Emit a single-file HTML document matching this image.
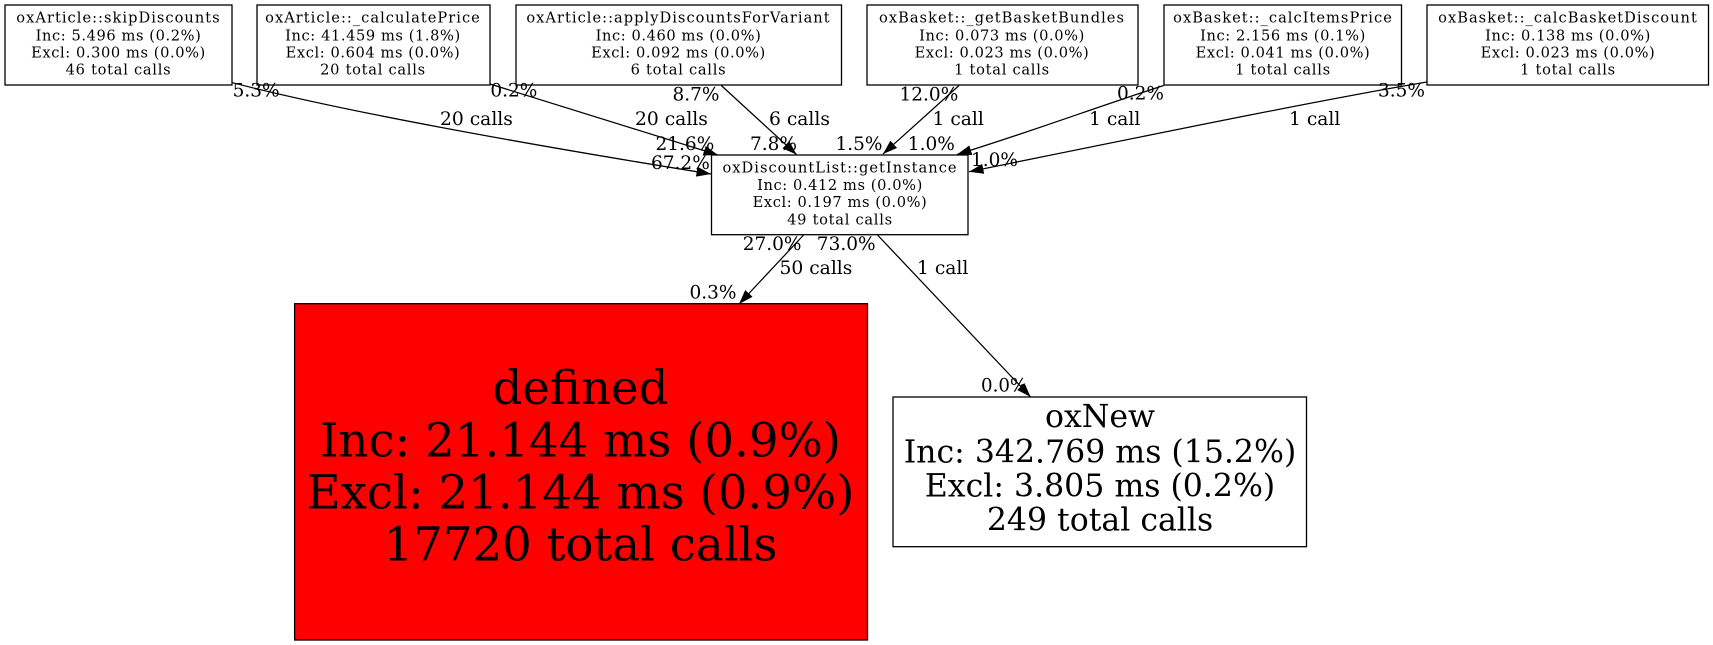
<!DOCTYPE html>
<html><head><meta charset="utf-8"><style>
html,body{margin:0;padding:0;background:#fff;width:1713px;height:645px;overflow:hidden}
svg{display:block}
text{font-family:"DejaVu Serif",serif;fill:#000;text-anchor:middle}
.n{font-size:14.6px;letter-spacing:1.03px}
.m{font-size:14.6px;letter-spacing:.6px}
.t{font-size:14.6px;letter-spacing:.73px}
.e{font-size:18.7px;text-anchor:start}
.p{font-size:18.5px;text-anchor:start}
.l{font-size:31.55px}
.x{font-size:46.65px}
rect{stroke:#000;stroke-width:1.3;fill:#fff}
path.c{fill:none;stroke:#000;stroke-width:1.25}
</style></head><body>
<svg width="1713" height="645" viewBox="0 0 1713 645" xmlns="http://www.w3.org/2000/svg">
<defs><marker id="a" markerUnits="userSpaceOnUse" markerWidth="15" markerHeight="10" refX="14.5" refY="5" orient="auto"><path d="M0,0L14.5,5L0,10z" fill="#000"/></marker></defs>

<rect x="5" y="5" width="227" height="80"/>
<rect x="257" y="5" width="233" height="80"/>
<rect x="516" y="5" width="325.5" height="80"/>
<rect x="867" y="5" width="271" height="80"/>
<rect x="1164" y="5" width="237.5" height="80"/>
<rect x="1427" y="5" width="281.5" height="80"/>
<rect x="711.5" y="155" width="256.5" height="79.7"/>
<rect x="294.6" y="303.7" width="572.9" height="336.3" style="fill:#f00"/>
<rect x="893" y="397" width="413.5" height="149.7"/>

<path class="c" marker-end="url(#a)" d="M232.5,82.7 C330,108 500,140 711,174"/>
<path class="c" marker-end="url(#a)" d="M490,84 L718,155"/>
<path class="c" marker-end="url(#a)" d="M721.3,85.5 L796.5,154.5"/>
<path class="c" marker-end="url(#a)" d="M959,85.5 L883,154"/>
<path class="c" marker-end="url(#a)" d="M1163.7,85.5 C1100,106 1030,132 957,154.5"/>
<path class="c" marker-end="url(#a)" d="M1427,82 C1320,100 1150,135 969,171.7"/>
<path class="c" marker-end="url(#a)" d="M803.6,235 L739,304"/>
<path class="c" marker-end="url(#a)" d="M877.5,235 L1030.7,397"/>

<text class="n" x="118.5" y="22.7">oxArticle::skipDiscounts</text>
<text class="m" x="118.5" y="40.3">Inc: 5.496 ms (0.2%)</text>
<text class="m" x="118.5" y="57.7">Excl: 0.300 ms (0.0%)</text>
<text class="t" x="118.5" y="74.7">46 total calls</text>

<text class="n" x="373" y="22.7">oxArticle::_calculatePrice</text>
<text class="m" x="373" y="40.3">Inc: 41.459 ms (1.8%)</text>
<text class="m" x="373" y="57.7">Excl: 0.604 ms (0.0%)</text>
<text class="t" x="373" y="74.7">20 total calls</text>

<text class="n" x="678.5" y="22.7">oxArticle::applyDiscountsForVariant</text>
<text class="m" x="678.5" y="40.3">Inc: 0.460 ms (0.0%)</text>
<text class="m" x="678.5" y="57.7">Excl: 0.092 ms (0.0%)</text>
<text class="t" x="678.5" y="74.7">6 total calls</text>

<text class="n" x="1002" y="22.7">oxBasket::_getBasketBundles</text>
<text class="m" x="1002" y="40.3">Inc: 0.073 ms (0.0%)</text>
<text class="m" x="1002" y="57.7">Excl: 0.023 ms (0.0%)</text>
<text class="t" x="1002" y="74.7">1 total calls</text>

<text class="n" x="1283" y="22.7">oxBasket::_calcItemsPrice</text>
<text class="m" x="1283" y="40.3">Inc: 2.156 ms (0.1%)</text>
<text class="m" x="1283" y="57.7">Excl: 0.041 ms (0.0%)</text>
<text class="t" x="1283" y="74.7">1 total calls</text>

<text class="n" x="1568" y="22.7">oxBasket::_calcBasketDiscount</text>
<text class="m" x="1568" y="40.3">Inc: 0.138 ms (0.0%)</text>
<text class="m" x="1568" y="57.7">Excl: 0.023 ms (0.0%)</text>
<text class="t" x="1568" y="74.7">1 total calls</text>

<text class="n" x="840" y="172.7">oxDiscountList::getInstance</text>
<text class="m" x="840" y="190">Inc: 0.412 ms (0.0%)</text>
<text class="m" x="840" y="207">Excl: 0.197 ms (0.0%)</text>
<text class="t" x="840" y="224.3">49 total calls</text>

<text class="x" x="580.5" y="404">defined</text>
<text class="x" x="580.5" y="456.7">Inc: 21.144 ms (0.9%)</text>
<text class="x" x="580.5" y="508.7">Excl: 21.144 ms (0.9%)</text>
<text class="x" x="580.5" y="560.7">17720 total calls</text>

<text class="l" x="1100" y="427">oxNew</text>
<text class="l" x="1100" y="462.3">Inc: 342.769 ms (15.2%)</text>
<text class="l" x="1100" y="496.7">Excl: 3.805 ms (0.2%)</text>
<text class="l" x="1100" y="530.7">249 total calls</text>

<text class="e" x="440" y="125">20 calls</text>
<text class="e" x="635" y="125">20 calls</text>
<text class="e" x="769" y="125">6 calls</text>
<text class="e" x="932.5" y="125">1 call</text>
<text class="e" x="1089" y="125">1 call</text>
<text class="e" x="1289" y="125">1 call</text>
<text class="e" x="779.5" y="274">50 calls</text>
<text class="e" x="917" y="274">1 call</text>

<text class="p" x="232.6" y="96.7">5.3%</text>
<text class="p" x="490.4" y="96.7">0.2%</text>
<text class="p" x="672.5" y="100.7">8.7%</text>
<text class="p" x="899.5" y="100.7">12.0%</text>
<text class="p" x="1117" y="99.3">0.2%</text>
<text class="p" x="1378" y="96.7">3.5%</text>
<text class="p" x="655.5" y="150">21.6%</text>
<text class="p" x="750" y="150">7.8%</text>
<text class="p" x="835.5" y="150">1.5%</text>
<text class="p" x="907.8" y="150">1.0%</text>
<text class="p" x="651" y="169">67.2%</text>
<text class="p" x="971" y="166">1.0%</text>
<text class="p" x="742.7" y="250">27.0%</text>
<text class="p" x="816.8" y="250">73.0%</text>
<text class="p" x="689.5" y="298.7">0.3%</text>
<text class="p" x="981" y="391.7" style="font-size:18.2px">0.0%</text>
</svg>
</body></html>
